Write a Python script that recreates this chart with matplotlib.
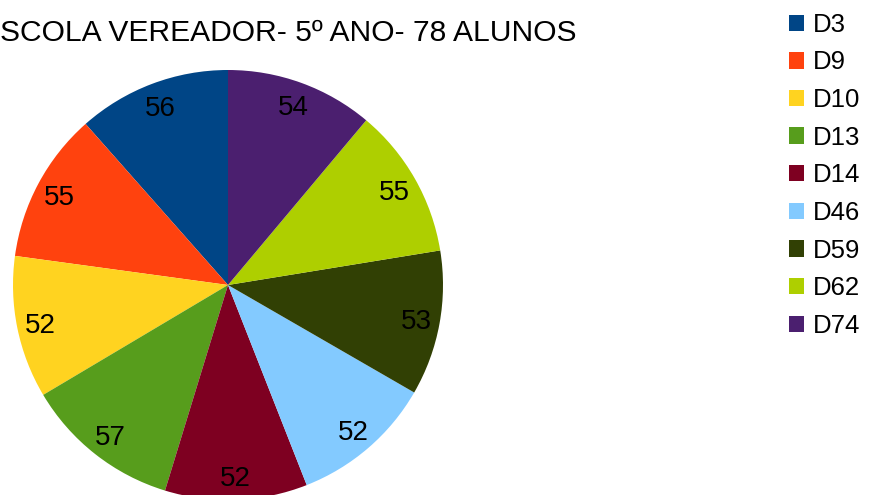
import matplotlib.pyplot as plt

plt.rcParams['font.family'] = ['Liberation Sans', 'DejaVu Sans']

descritores = ['D3', 'D9', 'D10', 'D13', 'D14', 'D46', 'D59', 'D62', 'D74']
acertos = [56, 55, 52, 57, 52, 52, 53, 55, 54]
cores = ['#004586', '#ff420e', '#ffd320', '#579d1c', '#7e0021',
         '#83caff', '#314004', '#aecf00', '#4b1f6f']

W, H = 869, 495
fig = plt.figure(figsize=(W / 100, H / 100), dpi=100)

# pie centre ~ (228, 285) px, radius ~215 px
cx, cy, r = 228, 285, 215
ax = fig.add_axes([(cx - r) / W, (H - cy - r) / H, 2 * r / W, 2 * r / H])
wedges, textos = ax.pie(acertos, colors=cores, startangle=90, counterclock=True,
                        labels=[str(v) for v in acertos], labeldistance=0.89,
                        textprops={'fontsize': 20, 'ha': 'center',
                                   'va': 'center_baseline'})
ax.set_xlim(-1, 1)
ax.set_ylim(-1, 1)

# title is cut at the left edge in the original
fig.text(577 / W, 1 - 33 / H, 'ESCOLA VEREADOR- 5º ANO- 78 ALUNOS',
         ha='right', va='center', fontsize=21.6)

fig.legend(wedges, descritores, loc='upper left', bbox_to_anchor=(776 / W, 1.0),
           frameon=False, fontsize=18.5, handlelength=0.6, handleheight=0.6,
           handletextpad=0.35, labelspacing=0.53, borderaxespad=0.1)

fig.savefig('out.png', dpi=100)
